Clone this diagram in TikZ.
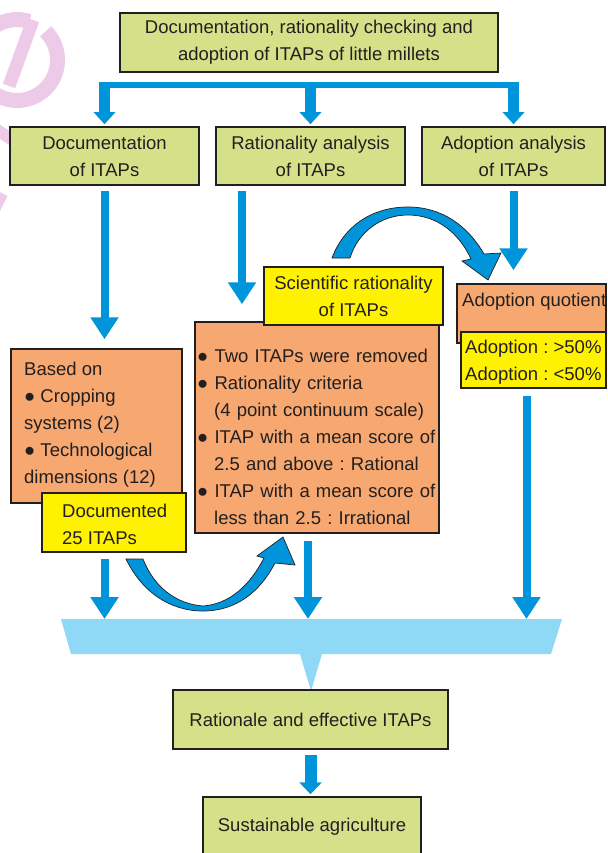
\documentclass[tikz,border=0pt]{standalone}
\usepackage{fontspec}
\setmainfont{Liberation Sans}
\usetikzlibrary{arrows.meta}
\definecolor{greenC}{RGB}{213,225,137}
\definecolor{orangeC}{RGB}{246,168,112}
\definecolor{yellowC}{RGB}{255,242,0}
\definecolor{blueC}{RGB}{0,149,218}
\definecolor{lblueC}{RGB}{143,217,246}
\definecolor{lineC}{RGB}{35,31,32}
\definecolor{pinkC}{RGB}{238,202,233}
\newcommand{\dfont}{\frenchspacing\fontsize{18.5}{27}\selectfont}
\tikzset{
  box/.style={draw=lineC, line width=1.5pt, inner sep=0pt, align=center, font=\dfont, text=lineC},
  gbox/.style={box, fill=greenC},
  obox/.style={box, fill=orangeC},
  ybox/.style={box, fill=yellowC},
  txt/.style={inner sep=0pt, font=\dfont, text=lineC},
  brarr/.style={draw=blueC, line width=11pt, -{Triangle[width=21pt,length=12pt]}},
  blarr/.style={draw=blueC, line width=8pt, -{Triangle[width=27pt,length=22pt]}},
  sarr/.style={draw=blueC, line width=12pt, -{Triangle[width=22pt,length=12pt]}},
  curvarr/.style={fill=blueC, draw=lineC, line width=0.7pt},
}
\begin{document}
\begin{tikzpicture}[x=1pt,y=-1pt]
\useasboundingbox (0,0) rectangle (607,853);
% watermark
\begin{scope}
\clip (0,0) rectangle (607,853);
\draw[pinkC, line width=15pt] (17,60) ++(-45:40.5) arc[start angle=-45, end angle=288, radius=40.5];
\draw[pinkC, line width=13pt] (33,20) -- (9,86);
\draw[pinkC, line width=12pt] (-6,128) -- (22,146);
\draw[pinkC, line width=8pt] (4,194) -- (-4,210);
\end{scope}

% top level
\node[gbox, minimum width=378pt, minimum height=59pt] (top) at (309,42.5) {Documentation, rationality checking and\\adoption of ITAPs of little millets};
\node[gbox, minimum width=189pt, minimum height=58pt] (doc) at (104.5,156) {Documentation\\of ITAPs};
\node[gbox, minimum width=189pt, minimum height=58pt] (rat) at (310.5,156) {Rationality analysis\\of ITAPs};
\node[gbox, minimum width=183pt, minimum height=58pt] (adopt) at (513.5,156) {Adoption analysis\\of ITAPs};

% bracket
\coordinate (bar) at (309,85.5);
\coordinate (bartop) at (309,82.5);
\draw[blueC, line width=6pt] ([xshift=-5.5pt]doc.north |- bar) -- ([xshift=5.5pt]adopt.north |- bar);
\draw[brarr] (doc.north |- bartop) -- ([yshift=2pt]doc.north);
\draw[brarr] (rat.north |- bartop) -- ([yshift=2pt]rat.north);
\draw[brarr] (adopt.north |- bartop) -- ([yshift=2pt]adopt.north);

% left column
\node[obox, minimum width=171pt, minimum height=154pt] (based) at (96.5,426) {};
\node[txt, anchor=north west, align=left] (basedtxt) at (24,361.5) {Based on\\● Cropping\\systems (2)\\● Technological\\dimensions (12)};
\node[ybox, minimum width=144pt, minimum height=59pt] (docu) at (114,522.5) {};
\node[txt, anchor=north west, align=left] (docutxt) at (62,503.5) {Documented\\25 ITAPs};

% middle column
\node[obox, minimum width=244pt, minimum height=211pt] (mid) at (317,427.5) {};
\node[txt, anchor=north west, text width=242pt, align=left] (midtxt) at (197,348.5) {● Two ITAPs were removed\\● Rationality criteria\\\hspace*{17pt}(4 point continuum scale)\\● ITAP with a mean score of\\\hspace*{17pt}2.5 and above : Rational\\● ITAP with a mean score of\\\hspace*{17pt}less than 2.5 : Irrational};
\node[ybox, minimum width=179pt, minimum height=58pt] (sci) at (353.5,296) {Scientific rationality\\of ITAPs};

% right column
\node[obox, minimum width=149pt, minimum height=59pt] (aq) at (531.5,313.5) {};
\node[txt, anchor=base west] (aqtxt) at (462,306) {Adoption quotient};
\node[ybox, minimum width=145pt, minimum height=56pt] (ay) at (533.5,360) {};
\node[txt, anchor=north west, align=left] (aytxt) at (465,339.5) {Adoption : >50\%\\Adoption : <50\%};

% row-2 arrows
\coordinate (midx) at (242,0);
\draw[blarr, shorten <=5pt, shorten >=9pt] (doc.south) -- (doc.south |- based.north);
\draw[blarr, shorten <=5pt, shorten >=17pt] (midx |- rat.south) -- (midx |- mid.north);
\draw[blarr, shorten <=5pt, shorten >=13pt] (adopt.south) -- (adopt.south |- aq.north);

% curved arrows
\filldraw[curvarr] (332,258) .. controls (344,226) and (372,207) .. (408,207)
  .. controls (442,207) and (468,226) .. (484,254)
  -- (501,253) -- (488,280) -- (462,261) -- (471,259)
  .. controls (459,233) and (437,215) .. (408,215)
  .. controls (381,215) and (358,232) .. (350,258) -- cycle;
\filldraw[curvarr] (126,559) .. controls (142,592) and (170,611) .. (203,611)
  .. controls (236,611) and (260,592) .. (275,563)
  -- (295,565) -- (283,537) -- (257,556) -- (264,558)
  .. controls (250,585) and (230,604) .. (203,606)
  .. controls (176,604) and (154,587) .. (143,559) -- cycle;

% funnel
\fill[lblueC] (61,619) -- (562,619) -- (551,654) -- (322,654) -- (311,691) -- (300,654) -- (71,654) -- cycle;
\coordinate (ftop) at (309,619);
\draw[blarr, shorten <=6pt] (doc.south |- docu.south) -- (doc.south |- ftop);
\draw[blarr, shorten <=7pt] ([xshift=-9pt]mid.south) -- ([xshift=-9pt]mid.south |- ftop);
\draw[blarr, shorten <=7pt] ([xshift=-7pt]ay.south) -- ([xshift=-7pt]ay.south |- ftop);

% bottom
\node[gbox, minimum width=275pt, minimum height=59pt] (rat2) at (310.5,719.5) {Rationale and effective ITAPs};
\node[gbox, minimum width=218pt, minimum height=60pt] (sust) at (312,827) {Sustainable agriculture};
\draw[sarr, shorten <=5pt, shorten >=2pt] (rat2.south) -- (rat2.south |- sust.north);
\end{tikzpicture}
\end{document}
